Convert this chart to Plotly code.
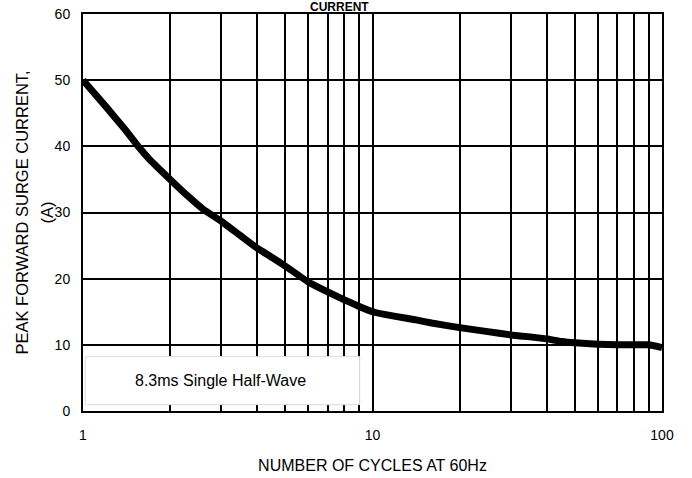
import plotly.graph_objects as go

cycles = [1, 1.2, 1.4, 1.55, 1.7, 2, 2.3, 2.6, 3, 3.5, 4, 4.5, 5, 6, 7, 8, 9, 10, 11, 12, 14, 16, 20, 25, 30, 35, 40, 45, 50, 60, 70, 80, 90, 100]
current = [50, 46, 42.5, 40, 38, 35, 32.5, 30.5, 28.7, 26.5, 24.6, 23.2, 21.9, 19.5, 18.0, 16.8, 15.8, 15.0, 14.6, 14.3, 13.8, 13.3, 12.6, 12.0, 11.5, 11.2, 10.9, 10.5, 10.3, 10.1, 10.0, 10.0, 10.0, 9.6]

x_ticks = [1, 2, 3, 4, 5, 6, 7, 8, 9, 10, 20, 30, 40, 50, 60, 70, 80, 90, 100]
x_labels = ["1", "", "", "", "", "", "", "", "", "10", "", "", "", "", "", "", "", "", "100"]
y_ticks = [0, 10, 20, 30, 40, 50, 60]

fig = go.Figure()
fig.add_trace(go.Scatter(x=cycles, y=current, mode="lines",
                         line=dict(color="black", width=7, shape="spline", smoothing=0.3),
                         showlegend=False, hoverinfo="skip"))

font = dict(family="Liberation Sans, Arial, sans-serif", color="black")

fig.update_layout(
    width=692, height=478,
    margin=dict(l=83, r=30, t=14, b=67, autoexpand=False),
    paper_bgcolor="white", plot_bgcolor="white",
    font=dict(family="Liberation Sans, Arial, sans-serif", size=14, color="black"),
    xaxis=dict(type="log", range=[0, 2], tickvals=x_ticks, ticktext=x_labels,
               showgrid=True, gridcolor="black", gridwidth=2,
               showline=True, linecolor="black", linewidth=2, mirror=True,
               ticks="", tickfont=dict(size=14), zeroline=False, automargin=False,
               ticklabelstandoff=10,
               title=dict(text="NUMBER OF CYCLES AT 60Hz", font=dict(size=16), standoff=18)),
    yaxis=dict(range=[0, 60], tickvals=y_ticks,
               showgrid=True, gridcolor="black", gridwidth=2,
               showline=True, linecolor="black", linewidth=2, mirror=True,
               ticks="", tickfont=dict(size=14), zeroline=False, automargin=False,
               ticklabelstandoff=8),
)

fig.add_shape(type="rect", xref="paper", yref="paper", x0=0.004, x1=0.478, y0=0.016, y1=0.137,
              fillcolor="white", line=dict(color="#dddddd", width=1), layer="above")
fig.add_annotation(text="8.3ms Single Half-Wave", xref="paper", yref="paper", x=0.237, y=0.077,
                   showarrow=False, font=dict(size=16, **font), xanchor="center", yanchor="middle")

fig.add_annotation(text="PEAK FORWARD SURGE CURRENT,", xref="paper", yref="paper",
                   x=(21 - 83) / 579, y=0.5, textangle=-90, showarrow=False,
                   font=dict(size=16.5, **font), xanchor="center", yanchor="middle")
fig.add_annotation(text="(A)", xref="paper", yref="paper",
                   x=(46 - 83) / 579, y=0.5, textangle=-90, showarrow=False,
                   font=dict(size=16.5, **font), xanchor="center", yanchor="middle")
fig.add_annotation(text="<b>CURRENT</b>", xref="paper", yref="paper",
                   x=(339 - 83) / 579, y=1.0, yshift=-1, showarrow=False, borderpad=0,
                   font=dict(size=12, **font), xanchor="center", yanchor="bottom")

fig.write_html("out.html", config={"displayModeBar": False},
               post_script="document.body.style.margin='0';")
